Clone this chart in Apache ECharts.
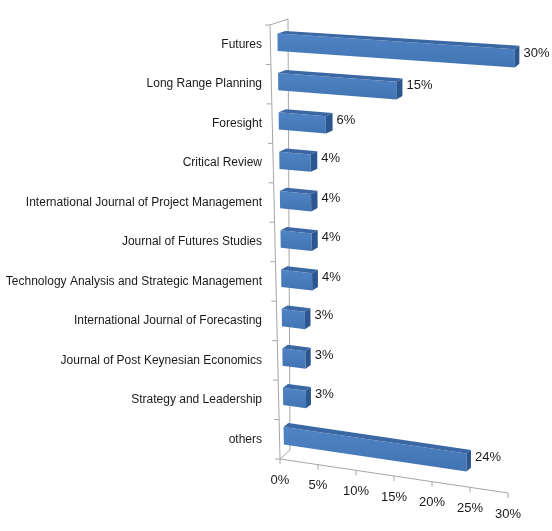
<!DOCTYPE html>
<html>
<head>
<meta charset="utf-8">
<script src="https://cdn.jsdelivr.net/npm/echarts@6/dist/echarts.min.js"></script>
<style>
html, body { margin: 0; padding: 0; background: #fff; }
#main { width: 552px; height: 531px; }
</style>
</head>
<body>
<div id="main"></div>
<script>
var journals = [
	'Futures',
	'Long Range Planning',
	'Foresight',
	'Critical Review',
	'International Journal of Project Management',
	'Journal of Futures Studies',
	'Technology Analysis and Strategic Management',
	'International Journal of Forecasting',
	'Journal of Post Keynesian Economics',
	'Strategy and Leadership',
	'others'
];
var shares = [30, 15, 6, 4, 4, 4, 4, 3, 3, 3, 24];
var xTicks = [0, 5, 10, 15, 20, 25, 30];

var font = '"Liberation Sans", Arial, sans-serif';
var textColor = '#1a1a1a';
var lineColor = '#a6a6a6';

// 3d box: front plane corners and depth vectors (pixels), s = value 0..1, t = rows 0..1
var Q = { tl: [270, 25], tr: [511, 41], bl: [280, 459], br: [508, 493] };
var D = { tl: [18, -6], tr: [10, -8], bl: [10, -9], br: [10, -8] };

function bil(c, s, t) {
	var top = [c.tl[0] + (c.tr[0] - c.tl[0]) * s, c.tl[1] + (c.tr[1] - c.tl[1]) * s];
	var bot = [c.bl[0] + (c.br[0] - c.bl[0]) * s, c.bl[1] + (c.br[1] - c.bl[1]) * s];
	return [top[0] + (bot[0] - top[0]) * t, top[1] + (bot[1] - top[1]) * t];
}

function project(s, t, z) {
	var p = bil(Q, s, t);
	var d = bil(D, s, t);
	return [p[0] + d[0] * z, p[1] + d[1] * z];
}

function toST(params, api, v, i) {
	var cs = params.coordSys;
	var p = api.coord([v, i]);
	return [(p[0] - cs.x) / cs.width, (p[1] - cs.y) / cs.height];
}

function renderBar(params, api) {
	var v = api.value(0);
	var st = toST(params, api, v, api.value(1));
	var s = st[0], t = st[1];
	var hh = api.size([0, 1])[1] / params.coordSys.height * 0.22;
	var z0 = 0.4, z1 = 0.85;
	var a = project(0, t - hh, z0), b = project(s, t - hh, z0);
	var c = project(s, t + hh, z0), d = project(0, t + hh, z0);
	var a1 = project(0, t - hh, z1), b1 = project(s, t - hh, z1), c1 = project(s, t + hh, z1);
	return {
		type: 'group',
		children: [
			{ type: 'polygon', shape: { points: [a, b, c, d] },
				style: { fill: new echarts.graphic.LinearGradient(0, 0, 0, 1, [
					{ offset: 0, color: '#4f84c4' }, { offset: 1, color: '#4274b3' }]) } },
			{ type: 'polygon', shape: { points: [a, b, b1, a1] }, style: { fill: '#3b68a5' } },
			{ type: 'polygon', shape: { points: [b, b1, c1, c] }, style: { fill: '#2c5690' } },
			{ type: 'text', style: {
				x: Math.max(b1[0], c1[0]) + 4, y: (b[1] + c1[1]) / 2 - 3,
				text: v + '%', fill: textColor, font: '13px ' + font,
				align: 'left', verticalAlign: 'middle' } }
		]
	};
}

function renderFrame(params, api) {
	var kids = [];
	function seg(p, q) {
		kids.push({ type: 'line', shape: { x1: p[0], y1: p[1], x2: q[0], y2: q[1] },
			style: { stroke: lineColor, lineWidth: 1 } });
	}
	seg(project(0, 0, 0), project(0, 1, 0));
	seg(project(0, 0, 1), project(0, 1, 1));
	seg(project(0, 0, 0), project(0, 0, 1));
	seg(project(0, 1, 0), project(0, 1, 1));
	seg(project(0, 1, 0), project(1, 1, 0));
	for (var k = 0; k <= journals.length; k++) {
		var p = project(0, k / journals.length, 0);
		seg(p, [p[0] - 5, p[1]]);
	}
	return { type: 'group', children: kids };
}

function renderTick(params, api) {
	var v = api.value(0);
	var st = toST(params, api, v, 0);
	var p = project(st[0], 1, 0);
	return {
		type: 'group',
		children: [
			{ type: 'line', shape: { x1: p[0], y1: p[1], x2: p[0], y2: p[1] + 5 },
				style: { stroke: lineColor, lineWidth: 1 } },
			{ type: 'text', style: { x: p[0], y: p[1] + 21, text: v + '%',
				fill: textColor, font: '13px ' + font, align: 'center', verticalAlign: 'middle' } }
		]
	};
}

var chart = echarts.init(document.getElementById('main'));
var option = {
	animation: false,
	grid: { left: 270, top: 25, width: 240, height: 434, containLabel: false, outerBoundsMode: 'none' },
	xAxis: { type: 'value', min: 0, max: 30, show: false },
	yAxis: {
		type: 'category',
		data: journals,
		inverse: true,
		axisLine: { show: false },
		axisTick: { show: false },
		splitLine: { show: false },
		axisLabel: { margin: 8, fontSize: 12, color: textColor, fontFamily: font }
	},
	series: [
		{ type: 'custom', renderItem: renderFrame, data: [[0, 0]], clip: false, silent: true },
		{ type: 'custom', renderItem: renderTick, data: xTicks.map(function(v) { return [v, 0]; }), clip: false, silent: true },
		{ type: 'custom', renderItem: renderBar, data: shares.map(function(v, i) { return [v, i]; }), clip: false }
	]
};
chart.setOption(option);
</script>
</body>
</html>
